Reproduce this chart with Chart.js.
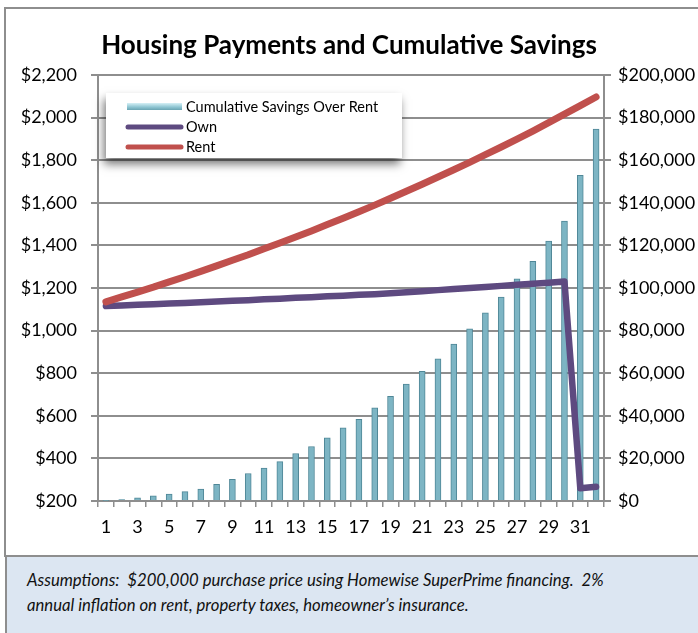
<!DOCTYPE html>
<html>
<head>
<meta charset="utf-8">
<title>Housing Payments and Cumulative Savings</title>
<script src="https://cdn.jsdelivr.net/npm/chart.js@4.4.1/dist/chart.umd.min.js"></script>
<style>
    body { margin: 0; background: #fff; font-family: Lato, "Open Sans", sans-serif; }
    #chart { position: absolute; left: 0; top: 0; }
    #frame {
        position: absolute; left: 4px; top: 7px; width: 700px; height: 550px;
        border: 2px solid #8e8e8e; border-right: none; box-sizing: border-box;
        pointer-events: none;
    }
    #note {
        position: absolute; left: 5px; top: 557px; width: 693px; height: 76px;
        background: #dce6f2; border-left: 2px solid #8e8e8e; box-sizing: border-box;
        padding: 11px 0 0 20px; font-style: italic; font-size: 16.7px; line-height: 25px;
        color: #111;
    }
</style>
</head>
<body>
<canvas id="chart" width="698" height="553"></canvas>
<div id="frame"></div>
<div id="note">Assumptions:&nbsp; $200,000 purchase price using Homewise SuperPrime financing.&nbsp; 2%<br>annual inflation on rent, property taxes, homeowner’s insurance.</div>
<script>
// Data
const years = ["1", "2", "3", "4", "5", "6", "7", "8", "9", "10", "11", "12", "13", "14", "15", "16",
    "17", "18", "19", "20", "21", "22", "23", "24", "25", "26", "27", "28", "29", "30", "31", "32"];

// cumulative savings (right axis)
const savings = [240, 720, 1500, 2400, 3200, 4400, 5600, 7800, 10200, 12900, 15500, 18500, 22300, 25600,
    29600, 34300, 38400, 43800, 49100, 54900, 60900, 66700, 73700, 80800, 88300, 95700, 104300, 112500,
    122000, 131400, 152900, 174600];

// monthly payments (left axis)
const own = [1115, 1118, 1121, 1124, 1127, 1130, 1133, 1137, 1140, 1143, 1147, 1150, 1154, 1157, 1161, 1164,
    1168, 1171, 1175, 1180, 1185, 1190, 1195, 1200, 1205, 1210, 1215, 1220, 1225, 1231, 260, 267];
const rent = [1135, 1158, 1181, 1204, 1229, 1253, 1278, 1304, 1330, 1356, 1384, 1411, 1439, 1468, 1498, 1528,
    1558, 1589, 1621, 1654, 1687, 1721, 1755, 1790, 1826, 1862, 1899, 1937, 1976, 2016, 2056, 2097];

const gridColor = "#8e8e8e";
const font = "Lato";

// legend drawn inside the plot with a drop shadow
const insetLegend = {
    id: "insetLegend",
    afterDraw(chart) {
        const ctx = chart.ctx;
        const box = { x: 106, y: 93, w: 296, h: 65 };
        ctx.save();
        ctx.shadowColor = "rgba(0,0,0,0.55)";
        ctx.shadowBlur = 9;
        ctx.shadowOffsetX = -2;
        ctx.shadowOffsetY = 6;
        ctx.fillStyle = "#fff";
        ctx.fillRect(box.x, box.y, box.w, box.h);
        ctx.restore();

        ctx.save();
        ctx.font = "14.5px " + font;
        ctx.textBaseline = "middle";
        chart.data.datasets.forEach((ds, i) => {
            const y = 107 + i * 20;
            if (ds.type === "bar") {
                const g = ctx.createLinearGradient(0, y - 4, 0, y + 4);
                g.addColorStop(0, "#d6f0f6");
                g.addColorStop(0.5, "#8fc6d3");
                g.addColorStop(1, "#5e99a8");
                ctx.fillStyle = g;
                ctx.fillRect(127, y - 4, 55, 7);
            } else {
                ctx.strokeStyle = ds.borderColor;
                ctx.lineWidth = 5;
                ctx.lineCap = "round";
                ctx.beginPath();
                ctx.moveTo(128, y);
                ctx.lineTo(181, y);
                ctx.stroke();
            }
            ctx.fillStyle = "#000";
            ctx.fillText(ds.label, 186, y);
        });
        ctx.restore();
    },
};

new Chart(document.getElementById("chart"), {
    data: {
        labels: years,
        datasets: [
            {
                type: "bar",
                label: "Cumulative Savings Over Rent",
                data: savings,
                yAxisID: "y1",
                backgroundColor: "#7db5c4",
                borderColor: "#4f8797",
                borderWidth: 1,
                barThickness: 6,
                order: 2,
            },
            {
                type: "line",
                label: "Own",
                data: own,
                yAxisID: "y",
                borderColor: "#5e4a80",
                borderWidth: 6.5,
                borderCapStyle: "round",
                borderJoinStyle: "round",
                pointRadius: 0,
                tension: 0,
                order: 1,
            },
            {
                type: "line",
                label: "Rent",
                data: rent,
                yAxisID: "y",
                borderColor: "#c0504d",
                borderWidth: 7,
                borderCapStyle: "round",
                borderJoinStyle: "round",
                pointRadius: 0,
                tension: 0,
                order: 0,
            },
        ],
    },
    options: {
        responsive: false,
        animation: false,
        layout: { padding: 0 },
        plugins: {
            legend: { display: false },
            tooltip: { enabled: false },
            title: {
                display: true,
                text: "Housing Payments and Cumulative Savings",
                color: "#000",
                font: { family: font, size: 26, weight: "bold", lineHeight: 1.2 },
                padding: { top: 30, bottom: 13.8 },
            },
        },
        scales: {
            x: {
                offset: true,
                grid: { offset: true, drawOnChartArea: false, drawTicks: true, tickLength: 6, color: gridColor, lineWidth: 1.5 },
                border: { color: gridColor, width: 2 },
                ticks: {
                    autoSkip: false,
                    maxRotation: 0,
                    padding: 9,
                    color: "#000",
                    font: { family: font, size: 18 },
                    callback: function (val, i) {
                        return i % 2 === 0 ? this.getLabelForValue(val) : "";
                    },
                },
                afterFit: (s) => { s.height = 52; },
            },
            y: {
                position: "left",
                min: 200,
                max: 2200,
                grid: { color: gridColor, lineWidth: 2, tickLength: 7 },
                border: { color: gridColor, width: 2 },
                ticks: {
                    stepSize: 200,
                    padding: 14,
                    color: "#000",
                    font: { family: font, size: 18 },
                    callback: (v) => "$" + v.toLocaleString("en-US"),
                },
                afterFit: (s) => { s.width = 98; },
            },
            y1: {
                position: "right",
                min: 0,
                max: 200000,
                grid: { drawOnChartArea: false, color: gridColor, lineWidth: 2, tickLength: 7 },
                border: { color: gridColor, width: 2 },
                ticks: {
                    stepSize: 20000,
                    padding: 7,
                    color: "#000",
                    font: { family: font, size: 18 },
                    callback: (v) => "$" + v.toLocaleString("en-US"),
                },
                afterFit: (s) => { s.width = 94; },
            },
        },
    },
    plugins: [insetLegend],
});
</script>
</body>
</html>
